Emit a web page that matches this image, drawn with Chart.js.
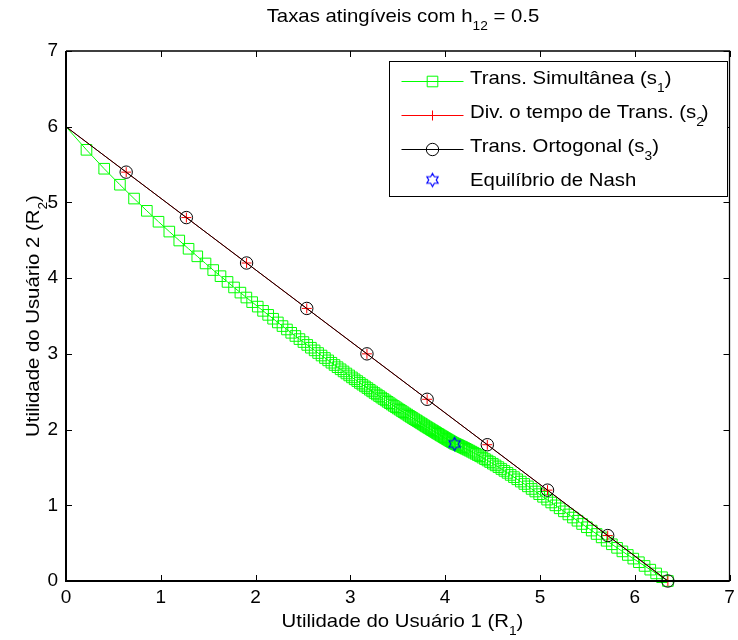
<!DOCTYPE html>
<html>
<head>
<meta charset="utf-8">
<title>Taxas atingíveis</title>
<script src="https://cdn.jsdelivr.net/npm/chart.js@4.4.0/dist/chart.umd.min.js"></script>
<style>
  html, body { margin: 0; padding: 0; background: #fff; }
  #wrap { width: 738px; height: 640px; }
</style>
</head>
<body>
<div id="wrap"><canvas id="rates" width="738" height="640"></canvas></div>
<script>
// simultaneous transmission: rate pairs (R1, R2)
const simR1 = [
  0, 0.216, 0.403, 0.569, 0.718, 0.853, 0.976, 1.090, 1.195, 1.293,
  1.385, 1.472, 1.553, 1.630, 1.704, 1.773, 1.840, 1.903, 1.964, 2.023,
  2.079, 2.133, 2.185, 2.235, 2.284, 2.331, 2.376, 2.420, 2.463, 2.505,
  2.545, 2.584, 2.623, 2.660, 2.696, 2.732, 2.766, 2.800, 2.833, 2.865,
  2.897, 2.928, 2.958, 2.988, 3.017, 3.045, 3.073, 3.100, 3.127, 3.154,
  3.180, 3.205, 3.230, 3.255, 3.279, 3.303, 3.326, 3.349, 3.372, 3.394,
  3.416, 3.437, 3.459, 3.480, 3.500, 3.521, 3.541, 3.561, 3.580, 3.600,
  3.619, 3.638, 3.656, 3.674, 3.693, 3.710, 3.728, 3.746, 3.763, 3.780,
  3.797, 3.813, 3.830, 3.846, 3.862, 3.878, 3.894, 3.909, 3.925, 3.940,
  3.955, 3.970, 3.985, 3.999, 4.014, 4.028, 4.042, 4.056, 4.070, 4.084,
  4.098, 4.110, 4.123, 4.137, 4.151, 4.167, 4.183, 4.200, 4.218, 4.237,
  4.257, 4.278, 4.299, 4.322, 4.345, 4.369, 4.394, 4.420, 4.447, 4.474,
  4.503, 4.532, 4.562, 4.593, 4.625, 4.658, 4.691, 4.726, 4.761, 4.798,
  4.835, 4.873, 4.912, 4.951, 4.992, 5.033, 5.076, 5.119, 5.163, 5.208,
  5.253, 5.300, 5.348, 5.396, 5.445, 5.495, 5.546, 5.598, 5.651, 5.704,
  5.759, 5.814, 5.870, 5.927, 5.985, 6.044, 6.104, 6.164, 6.226, 6.288,
  6.350
];
const simR2 = [
  6, 5.695, 5.445, 5.234, 5.051, 4.889, 4.745, 4.615, 4.497, 4.388,
  4.288, 4.194, 4.107, 4.026, 3.950, 3.877, 3.809, 3.744, 3.683, 3.624,
  3.568, 3.515, 3.464, 3.415, 3.367, 3.322, 3.278, 3.236, 3.195, 3.156,
  3.118, 3.081, 3.046, 3.011, 2.978, 2.945, 2.914, 2.883, 2.853, 2.824,
  2.796, 2.768, 2.741, 2.715, 2.689, 2.664, 2.640, 2.616, 2.593, 2.570,
  2.548, 2.526, 2.504, 2.483, 2.463, 2.443, 2.423, 2.404, 2.385, 2.366,
  2.348, 2.330, 2.312, 2.295, 2.278, 2.262, 2.245, 2.229, 2.213, 2.198,
  2.182, 2.167, 2.153, 2.138, 2.124, 2.110, 2.096, 2.082, 2.069, 2.055,
  2.042, 2.029, 2.017, 2.004, 1.992, 1.980, 1.968, 1.956, 1.944, 1.933,
  1.921, 1.910, 1.899, 1.888, 1.877, 1.867, 1.856, 1.846, 1.836, 1.826,
  1.816, 1.809, 1.802, 1.795, 1.786, 1.777, 1.768, 1.757, 1.746, 1.734,
  1.722, 1.708, 1.694, 1.679, 1.663, 1.647, 1.629, 1.610, 1.591, 1.571,
  1.549, 1.527, 1.504, 1.479, 1.454, 1.428, 1.401, 1.372, 1.343, 1.313,
  1.282, 1.250, 1.216, 1.182, 1.147, 1.112, 1.075, 1.037, 0.999, 0.960,
  0.920, 0.879, 0.838, 0.796, 0.753, 0.710, 0.666, 0.621, 0.576, 0.531,
  0.485, 0.438, 0.391, 0.344, 0.296, 0.248, 0.199, 0.150, 0.100, 0.050,
  0
];

// time division
const divR1 = [0, 0.635, 1.27, 1.905, 2.54, 3.175, 3.81, 4.445, 5.08, 5.715, 6.35];
const divR2 = [6, 5.4, 4.8, 4.2, 3.6, 3.0, 2.4, 1.8, 1.2, 0.6, 0];

// orthogonal transmission
const ortR1 = [0, 0.635, 1.27, 1.905, 2.54, 3.175, 3.81, 4.445, 5.08, 5.715, 6.35];
const ortR2 = [6, 5.4, 4.8, 4.2, 3.6, 3.0, 2.4, 1.8, 1.2, 0.6, 0];

// Nash equilibrium
const nashR1 = [4.1];
const nashR2 = [1.81];

const xTicks = [0, 1, 2, 3, 4, 5, 6, 7];
const yTicks = [0, 1, 2, 3, 4, 5, 6, 7];

const FONT = '"Liberation Sans", Arial, Helvetica, sans-serif';
const MAIN_PX = 18.5, TICK_PX = 19, SUB_PX = 12.5, SUB_DY = 8, STRETCH = 1.1;
const SQ_R = 7.5, CROSS_R = 5, CIRC_R = 6.2, STAR_R = 6.5;

function toPoints(xs, ys) {
  return xs.map((x, i) => ({ x: x, y: ys[i] }));
}

// six-pointed star outline, used as a point image
function hexagram(r, color) {
  const s = Math.ceil(2 * r + 4);
  const c = document.createElement('canvas');
  c.width = s; c.height = s;
  const g = c.getContext('2d');
  g.strokeStyle = color;
  g.lineWidth = 1.2;
  g.beginPath();
  for (let i = 0; i < 12; i++) {
    const a = -Math.PI / 2 + i * Math.PI / 6;
    const rr = i % 2 ? r / Math.sqrt(3) : r;
    const px = s / 2 + rr * Math.cos(a), py = s / 2 + rr * Math.sin(a);
    if (i) g.lineTo(px, py); else g.moveTo(px, py);
  }
  g.closePath();
  g.stroke();
  return c;
}
const starImg = hexagram(STAR_R, '#0000ff');

// text with TeX-like subscripts: parts are [text, isSub, advance]
function richText(ctx, parts, x, y, align, rotate) {
  ctx.save();
  ctx.translate(x, y);
  if (rotate) ctx.rotate(rotate);
  ctx.scale(STRETCH, 1);
  ctx.fillStyle = '#000';
  ctx.textAlign = 'left';
  ctx.textBaseline = 'alphabetic';
  const widths = parts.map(p => {
    ctx.font = (p[1] ? SUB_PX : MAIN_PX) + 'px ' + FONT;
    return p[2] != null ? p[2] : ctx.measureText(p[0]).width;
  });
  const total = widths.reduce((a, b) => a + b, 0);
  let cx = align === 'center' ? -total / 2 : 0;
  parts.forEach((p, i) => {
    ctx.font = (p[1] ? SUB_PX : MAIN_PX) + 'px ' + FONT;
    ctx.fillText(p[0], cx, p[1] ? SUB_DY : 0);
    cx += widths[i];
  });
  ctx.restore();
}

function drawMarker(ctx, kind, x, y, color) {
  if (kind === 'star') {
    ctx.drawImage(starImg, x - starImg.width / 2, y - starImg.height / 2);
    return;
  }
  ctx.save();
  ctx.strokeStyle = color;
  ctx.lineWidth = 1;
  ctx.beginPath();
  if (kind === 'rect') {
    const h = SQ_R * Math.SQRT1_2;
    ctx.rect(x - h, y - h, 2 * h, 2 * h);
  } else if (kind === 'cross') {
    ctx.moveTo(x - CROSS_R, y); ctx.lineTo(x + CROSS_R, y);
    ctx.moveTo(x, y - CROSS_R); ctx.lineTo(x, y + CROSS_R);
  } else if (kind === 'circle') {
    ctx.arc(x, y, CIRC_R, 0, 2 * Math.PI);
  }
  ctx.stroke();
  ctx.restore();
}

const legendRows = [
  { parts: [['Trans. Simultânea (s'], ['1', true], [')']], line: '#00ff00', marker: 'rect' },
  { parts: [['Div. o tempo de Trans. (s'], ['2', true, 5], [')']], line: '#ff0000', marker: 'cross' },
  { parts: [['Trans. Ortogonal (s'], ['3', true], [')']], line: '#000000', marker: 'circle' },
  { parts: [['Equilíbrio de Nash']], line: null, marker: 'star' }
];

// box around the axes with inward ticks on all four sides
const axesBox = {
  id: 'axesBox',
  afterDatasetsDraw(chart) {
    const { ctx, chartArea: a, scales: { x, y } } = chart;
    ctx.save();
    ctx.strokeStyle = '#000';
    ctx.lineWidth = 1;
    ctx.beginPath();
    xTicks.forEach(v => {
      const px = Math.round(x.getPixelForValue(v)) + 0.5;
      ctx.moveTo(px, a.bottom); ctx.lineTo(px, a.bottom - 6);
      ctx.moveTo(px, a.top); ctx.lineTo(px, a.top + 6);
    });
    yTicks.forEach(v => {
      const py = Math.round(y.getPixelForValue(v)) + 0.5;
      ctx.moveTo(a.left, py); ctx.lineTo(a.left + 6, py);
      ctx.moveTo(a.right, py); ctx.lineTo(a.right - 6, py);
    });
    ctx.stroke();
    ctx.lineWidth = 1.3;
    ctx.beginPath();
    ctx.moveTo(a.left, a.top); ctx.lineTo(a.right, a.top); ctx.lineTo(a.right, a.bottom);
    ctx.stroke();
    ctx.lineWidth = 2;
    ctx.beginPath();
    ctx.moveTo(a.left, a.top); ctx.lineTo(a.left, a.bottom); ctx.lineTo(a.right, a.bottom);
    ctx.stroke();
    ctx.restore();
  }
};

// title, axis labels and the boxed legend
const annotations = {
  id: 'annotations',
  afterDraw(chart) {
    const ctx = chart.ctx;
    richText(ctx, [['Taxas atingíveis com h'], ['12', true], [' = 0.5']], 403, 22, 'center');
    richText(ctx, [['Utilidade do Usuário 1 (R'], ['1', true], [')']], 402.5, 627, 'center');
    richText(ctx, [['Utilidade do Usuário 2 (R'], ['2', true], [')']], 38.5, 316, 'center', -Math.PI / 2);

    const bx = 389.5, by = 61.5, bw = 338, bh = 135;
    ctx.save();
    ctx.fillStyle = '#fff';
    ctx.fillRect(bx, by, bw, bh);
    ctx.strokeStyle = '#000';
    ctx.lineWidth = 1;
    ctx.strokeRect(bx, by, bw, bh);
    ctx.restore();

    legendRows.forEach((row, i) => {
      const base = 84 + i * 34;
      const ly = Math.round(base - 3.3) + 0.5;
      if (row.line) {
        ctx.save();
        ctx.strokeStyle = row.line;
        ctx.lineWidth = 1;
        ctx.beginPath();
        ctx.moveTo(401.5, ly); ctx.lineTo(463.5, ly);
        ctx.stroke();
        ctx.restore();
        drawMarker(ctx, row.marker, 432.5, ly, row.line);
      } else {
        drawMarker(ctx, row.marker, 432.5, base - 6, null);
      }
      richText(ctx, row.parts, 470, base, 'left');
    });
  }
};

Chart.defaults.font.family = FONT;
Chart.defaults.color = '#000';

new Chart(document.getElementById('rates'), {
  type: 'scatter',
  data: {
    datasets: [
      {
        label: 'Trans. Simultânea (s1)',
        data: toPoints(simR1, simR2),
        showLine: true,
        borderColor: '#00ff00',
        borderWidth: 1,
        pointStyle: 'rect',
        pointRadius: c => (c.dataIndex === 0 ? 0 : SQ_R),
        pointBorderColor: '#00ff00',
        pointBackgroundColor: 'rgba(0,0,0,0)',
        pointBorderWidth: 1,
        clip: false,
        order: 4
      },
      {
        label: 'Div. o tempo de Trans. (s2)',
        data: toPoints(divR1, divR2),
        showLine: true,
        borderColor: '#ff0000',
        borderWidth: 1,
        pointStyle: 'cross',
        pointRadius: c => (c.dataIndex === 0 ? 0 : CROSS_R),
        pointBorderColor: '#ff0000',
        pointBorderWidth: 1,
        clip: false,
        order: 3
      },
      {
        label: 'Trans. Ortogonal (s3)',
        data: toPoints(ortR1, ortR2),
        showLine: true,
        borderColor: '#000000',
        borderWidth: 1,
        pointStyle: 'circle',
        pointRadius: c => (c.dataIndex === 0 ? 0 : CIRC_R),
        pointBorderColor: '#000000',
        pointBackgroundColor: 'rgba(0,0,0,0)',
        pointBorderWidth: 1,
        clip: false,
        order: 2
      },
      {
        label: 'Equilíbrio de Nash',
        data: toPoints(nashR1, nashR2),
        showLine: false,
        pointStyle: starImg,
        pointRadius: STAR_R,
        clip: false,
        order: 1
      }
    ]
  },
  options: {
    responsive: false,
    animation: false,
    events: [],
    layout: { padding: { top: 51, right: 1, left: 0, bottom: 0 } },
    plugins: {
      legend: { display: false },
      tooltip: { enabled: false },
      title: { display: false }
    },
    scales: {
      x: {
        type: 'linear',
        min: 0,
        max: 7,
        grid: { display: false, drawTicks: false },
        border: { display: false },
        ticks: { padding: 5, maxRotation: 0, autoSkip: false, color: '#000', font: { family: FONT, size: TICK_PX } },
        afterBuildTicks: s => { s.ticks = xTicks.map(v => ({ value: v })); },
        afterFit: s => { s.height = 59; s.paddingLeft = 0; s.paddingRight = 0; }
      },
      y: {
        type: 'linear',
        min: 0,
        max: 7,
        grid: { display: false, drawTicks: false },
        border: { display: false },
        ticks: { padding: 8, autoSkip: false, color: '#000', font: { family: FONT, size: TICK_PX } },
        afterBuildTicks: s => { s.ticks = yTicks.map(v => ({ value: v })); },
        afterFit: s => { s.width = 66; s.paddingTop = 0; s.paddingBottom = 0; }
      }
    }
  },
  plugins: [axesBox, annotations]
});
</script>
</body>
</html>
